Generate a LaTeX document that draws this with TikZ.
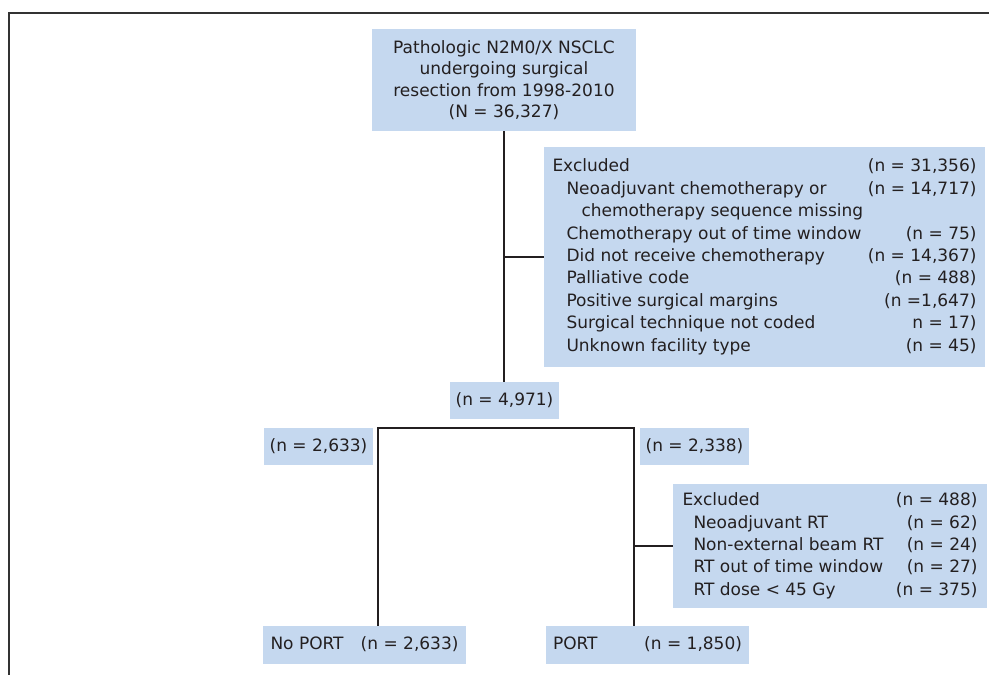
\documentclass[tikz,border=0pt]{standalone}
\usepackage{fontspec}
\setmainfont{DejaVu Sans}
\usetikzlibrary{calc,positioning}
\definecolor{boxblue}{RGB}{197,216,239}
\definecolor{inkgray}{RGB}{35,31,32}

\begin{document}
\begin{tikzpicture}[x=1pt,y=-1pt]
    \tikzset{BoxStyle/.style = {fill = boxblue,
        text  = inkgray,
        inner sep = 0pt,
        align = center,
        font  = \fontsize{17}{21.5}\selectfont},
      ListStyle/.style = {BoxStyle,
        font  = \fontsize{17}{22.4}\selectfont},
      EdgeStyle/.style = {draw = inkgray, line width = 2.5pt},
      FrameStyle/.style = {draw = black!80, line width = 2pt}}
    \useasboundingbox (0,0) rectangle (989,675);
    \draw[FrameStyle] (989,13) -- (9,13) -- (9,675);
    \node[BoxStyle, minimum width=264pt, minimum height=102pt] (start) at (504,80)
      {Pathologic N2M0/X NSCLC\\undergoing surgical\\resection from 1998-2010\\(N = 36,327)};
    \node[ListStyle, minimum width=441pt, minimum height=220pt] (excl) at (764.5,257)
      {\begin{tabular*}{424pt}{@{}l@{\extracolsep{\fill}}r@{}}
        Excluded & (n = 31,356)\\
        \hspace{14pt}Neoadjuvant chemotherapy or & (n = 14,717)\\
        \hspace{29pt}chemotherapy sequence missing & \\
        \hspace{14pt}Chemotherapy out of time window & (n = 75)\\
        \hspace{14pt}Did not receive chemotherapy & (n = 14,367)\\
        \hspace{14pt}Palliative code & (n = 488)\\
        \hspace{14pt}Positive surgical margins & (n =1,647)\\
        \hspace{14pt}Surgical technique not coded & n = 17)\\
        \hspace{14pt}Unknown facility type & (n = 45)
      \end{tabular*}};
    \node[BoxStyle, minimum width=109pt, minimum height=37pt] (total) at (504.5,400.5) {(n = 4,971)};
    \node[BoxStyle, minimum width=109pt, minimum height=37pt] (leftn) at (318.5,446.5) {(n = 2,633)};
    \node[BoxStyle, minimum width=109pt, minimum height=37pt] (rightn) at (694.5,446.5) {(n = 2,338)};
    \node[ListStyle, minimum width=314pt, minimum height=124pt] (rtexcl) at (830,546)
      {\begin{tabular*}{295pt}{@{}l@{\extracolsep{\fill}}r@{}}
        Excluded & (n = 488)\\
        \hspace{11pt}Neoadjuvant RT & (n = 62)\\
        \hspace{11pt}Non-external beam RT & (n = 24)\\
        \hspace{11pt}RT out of time window & (n = 27)\\
        \hspace{11pt}RT dose < 45 Gy & (n = 375)
      \end{tabular*}};
    \node[BoxStyle, minimum width=203pt, minimum height=38pt] (noport) at (364.5,645)
      {\begin{tabular*}{188pt}{@{}l@{\extracolsep{\fill}}r@{}}No PORT & (n = 2,633)\end{tabular*}};
    \node[BoxStyle, minimum width=203pt, minimum height=38pt] (port) at (647.5,645)
      {\begin{tabular*}{189pt}{@{}l@{\extracolsep{\fill}}r@{}}PORT & (n = 1,850)\end{tabular*}};
    \coordinate (splitL) at (378,428);
    \coordinate (splitR) at (634,428);
    \draw[EdgeStyle] (start.south) -- (start.south |- total.north);
    \draw[EdgeStyle] (start.south |- excl.west) -- (excl.west);
    \draw[EdgeStyle] (noport.north -| splitL) -- (splitL) -- (splitR) -- (port.north -| splitR);
    \draw[EdgeStyle] (splitR |- rtexcl.west) -- (rtexcl.west);
  \end{tikzpicture}
\end{document}
